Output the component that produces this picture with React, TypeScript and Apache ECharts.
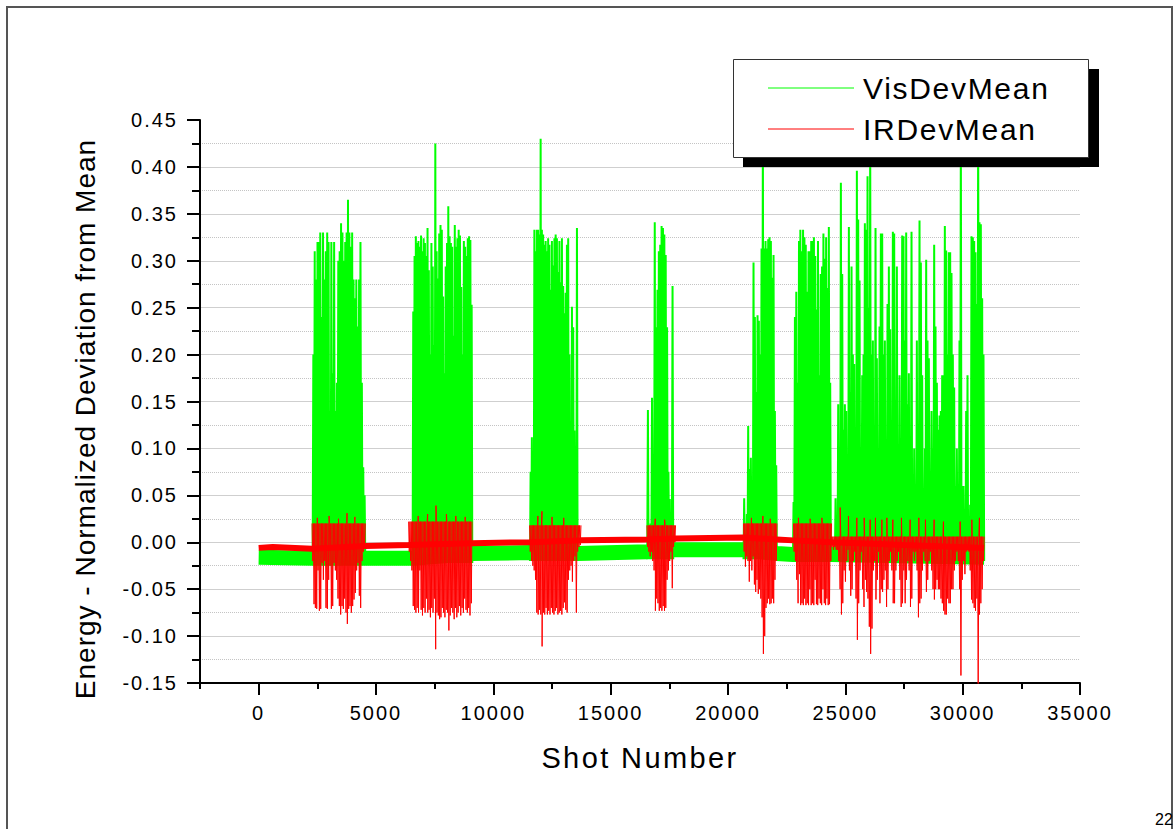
import React, { useEffect, useRef } from "react";
import * as echarts from "echarts";

const FONT = "'Liberation Sans', Arial, sans-serif";

// ---------- axes / texts ----------
const xMin = -2500;
const xMax = 35000;
const xMajorTicks = [0, 5000, 10000, 15000, 20000, 25000, 30000, 35000];
const xMinorTicks = [-2500, 2500, 7500, 12500, 17500, 22500, 27500, 32500];
const yMin = -0.15;
const yMax = 0.45;
const yStep = 0.05;
const legendNames = ["VisDevMean", "IRDevMean"];
const xTitle = "Shot Number";
const yTitle = "Energy - Normalized Deviation from Mean";
const pageNumber = "22";

// ---------- baseline noise bands (centre of band) ----------
const visBandShots = [0, 2300, 4545, 6560, 9104, 11562, 13590, 16558, 17666, 20661, 22083, 22765, 24384, 30916];
const visBandValues = [-0.016, -0.017, -0.017, -0.017, -0.012, -0.011, -0.012, -0.01, -0.008, -0.008, -0.012, -0.013, -0.013, -0.016];
const irBandShots = [0, 600, 2275, 4545, 6390, 9090, 11545, 13734, 16546, 17764, 20661, 22083, 22791, 24410, 27500, 30916];
const irBandValues = [-0.006, -0.005, -0.007, -0.004, -0.003, -0.001, 0.0, 0.002, 0.003, 0.004, 0.005, 0.003, 0.002, 0.0, -0.003, -0.006];

// ---------- VisDevMean bursts ----------
const visFrom = [2300, 6560, 11562, 16558, 20661, 22765, 24384];
const visTo = [4545, 9104, 13590, 17666, 22083, 24384, 30916];
const visFloor = [-0.022, -0.022, -0.02, -0.018, -0.018, -0.02, -0.02];
const visBurst1 = [0.2, 0.31, 0.28, 0.32, 0.32, 0.33, 0.24, 0.33, 0.28, 0.31, 0.33, 0.32, 0.14, 0.32, 0.18, 0.32, 0.14, 0.17, 0.3, 0.31, 0.34, 0.33, 0.3, 0.32, 0.33, 0.365, 0.33, 0.315, 0.33, 0.28, 0.26, 0.28, 0.23, 0.28, 0.32, 0.17, 0.08, 0.05];
const visBurst2 = [0.246, 0.305, 0.326, 0.319, 0.321, 0.315, 0.327, 0.31, 0.324, 0.319, 0.305, 0.335, 0.29, 0.2, 0.319, 0.294, 0.21, 0.425, 0.31, 0.281, 0.329, 0.338, 0.333, 0.262, 0.18, 0.294, 0.319, 0.358, 0.326, 0.319, 0.315, 0.22, 0.338, 0.315, 0.324, 0.333, 0.327, 0.272, 0.2, 0.321, 0.315, 0.305, 0.324, 0.326, 0.322, 0.253];
const visBurst3 = [0.075, 0.112, 0.046, 0.333, 0.31, 0.333, 0.333, 0.328, 0.43, 0.333, 0.328, 0.317, 0.321, 0.31, 0.324, 0.317, 0.269, 0.321, 0.295, 0.324, 0.328, 0.324, 0.288, 0.321, 0.277, 0.324, 0.273, 0.244, 0.266, 0.317, 0.324, 0.2, 0.119, 0.251, 0.229, 0.119, -0.01, 0.335];
const visBurst4 = [0.141, -0.01, 0.02, 0.154, 0.06, 0.341, 0.229, 0.269, 0.31, 0.317, 0.337, 0.335, 0.328, 0.306, 0.229, 0.075, 0.046, -0.01, 0.273];
const visBurst5 = [0.047, -0.01, 0.03, 0.124, 0.078, 0.09, 0.05, 0.298, 0.24, 0.16, 0.242, 0.236, 0.2, 0.313, 0.44, 0.313, 0.321, 0.313, 0.323, 0.325, 0.321, 0.282, 0.306, 0.14, 0.082];
const visBurst6 = [0.043, 0.24, 0.267, 0.17, 0.321, 0.333, 0.31, 0.333, 0.325, 0.317, 0.267, 0.31, 0.31, 0.321, 0.321, 0.325, 0.305, 0.248, 0.321, 0.178, 0.286, 0.294, 0.329, 0.302, 0.325, 0.271, 0.336, 0.17];
const visBurst7 = [
  -0.01, -0.01, -0.01, 0.047, 0.02, 0.147, 0.08, 0.383, 0.286, 0.12,
  0.147, 0.14, -0.01, 0.336, 0.16, 0.294, 0.2, 0.19, 0.0, 0.396,
  0.344, 0.279, 0.1, 0.178, 0.2, 0.34, 0.333, 0.39, 0.25, 0.44,
  0.2, 0.215, 0.1, 0.335, 0.196, 0.05, 0.23, 0.329, 0.329, 0.2,
  0.215, 0.1, 0.254, 0.294, 0.227, 0.05, 0.331, 0.329, 0.15, 0.294,
  0.05, 0.178, 0.05, 0.327, 0.326, 0.215, 0.33, 0.147, 0.18, 0.05,
  0.331, 0.02, 0.1, 0.03, 0.215, 0.05, 0.343, 0.298, 0.178, 0.0,
  0.1, 0.301, 0.215, 0.196, 0.05, 0.14, 0.1, 0.317, 0.23, 0.17,
  0.12, 0.135, 0.14, 0.178, 0.178, 0.337, 0.311, 0.2, 0.309, 0.309,
  0.287, 0.2, 0.165, 0.06, 0.1, 0.026, 0.215, 0.44, 0.06, 0.06,
  0.0, 0.14, 0.178, 0.0, 0.04, 0.326, 0.325, 0.321, 0.309, 0.254,
  0.45, 0.341, 0.339, 0.26, 0.2,
];
const visPeaks = [visBurst1, visBurst2, visBurst3, visBurst4, visBurst5, visBurst6, visBurst7];

// ---------- IRDevMean bursts ----------
const irFrom = [2275, 6390, 11545, 16546, 20661, 22791, 24410];
const irTo = [4545, 9090, 13734, 17764, 22083, 24410, 30916];
const irCeiling = [0.02, 0.022, 0.018, 0.018, 0.02, 0.02, 0.006];
const irBurst1 = [-0.02, -0.066, -0.07, -0.071, -0.03, -0.073, -0.071, -0.022, -0.04, -0.02, -0.07, -0.071, -0.04, -0.025, -0.071, -0.068, -0.022, -0.03, -0.04, -0.06, -0.068, -0.077, -0.068, -0.071, -0.06, -0.075, -0.087, -0.071, -0.068, -0.075, -0.068, -0.061, -0.054, -0.03, -0.022, -0.057, -0.07, -0.02, -0.01, -0.005];
const irBurst2 = [-0.01, -0.02, -0.03, -0.068, -0.072, -0.075, -0.07, -0.075, -0.03, -0.072, -0.078, -0.07, -0.075, -0.06, -0.075, -0.072, -0.08, -0.07, -0.075, -0.06, -0.114, -0.075, -0.078, -0.082, -0.08, -0.07, -0.075, -0.08, -0.072, -0.075, -0.094, -0.078, -0.07, -0.075, -0.082, -0.07, -0.08, -0.075, -0.068, -0.078, -0.07, -0.075, -0.06, -0.072, -0.075, -0.07, -0.078, -0.065];
const irBurst3 = [-0.01, -0.02, -0.025, -0.03, -0.04, -0.075, -0.077, -0.072, -0.077, -0.111, -0.075, -0.077, -0.07, -0.077, -0.073, -0.077, -0.07, -0.075, -0.077, -0.073, -0.07, -0.077, -0.075, -0.073, -0.077, -0.07, -0.064, -0.072, -0.075, -0.04, -0.03, -0.025, -0.042, -0.02, -0.015, -0.075, -0.01, -0.005, -0.003];
const irBurst4 = [-0.005, -0.01, -0.015, -0.01, -0.02, -0.03, -0.073, -0.06, -0.065, -0.073, -0.07, -0.073, -0.068, -0.073, -0.07, -0.04, -0.03, -0.02, -0.01, -0.049, -0.005, 0.0];
const irBurst5 = [-0.01, -0.026, -0.015, -0.02, -0.042, -0.02, -0.03, -0.015, -0.045, -0.053, -0.04, -0.055, -0.05, -0.06, -0.08, -0.119, -0.1, -0.07, -0.065, -0.06, -0.066, -0.065, -0.06, -0.065, -0.04, -0.02];
const irBurst6 = [-0.01, -0.02, -0.04, -0.065, -0.034, -0.067, -0.065, -0.067, -0.06, -0.067, -0.065, -0.067, -0.05, -0.067, -0.065, -0.067, -0.04, -0.066, -0.067, -0.06, -0.065, -0.067, -0.05, -0.065, -0.067, -0.06, -0.067, -0.066, -0.02];
const irBurst7 = [
  -0.005, -0.008, -0.005, -0.008, -0.008, -0.02, -0.05, -0.077, -0.065, -0.03,
  -0.042, -0.02, -0.008, -0.03, -0.057, -0.05, -0.02, -0.01, -0.06, -0.104,
  -0.065, -0.03, -0.01, -0.05, -0.069, -0.04, -0.053, -0.06, -0.09, -0.119,
  -0.092, -0.03, -0.02, -0.061, -0.04, -0.01, -0.065, -0.05, -0.053, -0.04,
  -0.03, -0.069, -0.05, -0.02, -0.01, -0.03, -0.065, -0.065, -0.03, -0.02,
  -0.01, -0.04, -0.069, -0.065, -0.03, -0.065, -0.04, -0.02, -0.03, -0.069,
  -0.06, -0.01, -0.02, -0.01, -0.03, -0.08, -0.065, -0.06, -0.03, -0.01,
  -0.02, -0.053, -0.04, -0.02, -0.01, -0.03, -0.05, -0.061, -0.05, -0.04,
  -0.05, -0.05, -0.06, -0.065, -0.073, -0.077, -0.077, -0.06, -0.065, -0.065,
  -0.05, -0.05, -0.03, -0.02, -0.01, -0.02, -0.05, -0.142, -0.04, -0.02,
  -0.034, -0.01, -0.008, -0.01, -0.03, -0.061, -0.065, -0.07, -0.073, -0.06,
  -0.158, -0.077, -0.065, -0.05, -0.02,
];
const irTroughs = [irBurst1, irBurst2, irBurst3, irBurst4, irBurst5, irBurst6, irBurst7];
const irUpShots = [
  2500, 3000, 3400, 3766, 4100,
  6800, 7200, 7557, 8000, 8400, 8800,
  11900, 12072, 12500, 13000,
  16900, 17300,
  21000, 21487, 21800,
  23000, 23500, 24000,
  24780, 25134, 25490, 25803, 26058, 26284, 26557, 26770, 27025, 27392, 27762, 28132, 28414, 28785, 29181, 29892, 30391, 30715,
];
const irUpValues = [
  0.026, 0.028, 0.025, 0.031, 0.027,
  0.028, 0.03, 0.039, 0.03, 0.028, 0.027,
  0.028, 0.033, 0.027, 0.026,
  0.025, 0.024,
  0.026, 0.028, 0.025,
  0.026, 0.025, 0.026,
  0.037, 0.028, 0.026, 0.026, 0.024, 0.026, 0.024, 0.026, 0.024, 0.026, 0.024, 0.026, 0.024, 0.024, 0.022, 0.022, 0.024, 0.026,
];

const GREEN = "#00ff00";
const RED = "#ff0000";

// dense trace inside one burst: alternate between the band level and each read extreme
function burstPoints(from: number, to: number, base: number, values: number[]) {
  const step = (to - from) / values.length;
  const pts: number[][] = [];
  values.forEach((v, i) => {
    pts.push([from + i * step, base]);
    pts.push([from + (i + 0.5) * step, v]);
  });
  pts.push([to, base]);
  return pts;
}

function buildOption() {
  const series: any[] = [];
  const lineBase = {
    type: "line",
    showSymbol: false,
    symbol: "none",
    silent: true,
    clip: true,
    animation: false,
  };
  series.push({
    ...lineBase,
    name: legendNames[0],
    data: visBandShots.map((s, i) => [s, visBandValues[i]]),
    lineStyle: { color: GREEN, width: 15, cap: "butt", join: "bevel" },
  });
  visFrom.forEach((f, i) => {
    series.push({
      ...lineBase,
      name: legendNames[0],
      data: burstPoints(f, visTo[i], visFloor[i], visPeaks[i]),
      lineStyle: { color: GREEN, width: 2 },
    });
  });
  series.push({
    ...lineBase,
    name: legendNames[1],
    data: irBandShots.map((s, i) => [s, irBandValues[i]]),
    lineStyle: { color: RED, width: 6, cap: "butt", join: "bevel" },
  });
  irFrom.forEach((f, i) => {
    const pts = burstPoints(f, irTo[i], irCeiling[i], irTroughs[i]);
    irUpShots.forEach((s, k) => {
      if (s > f && s < irTo[i]) pts.push([s, irUpValues[k]]);
    });
    pts.sort((a, b) => a[0] - b[0]);
    series.push({
      ...lineBase,
      name: legendNames[1],
      data: pts,
      lineStyle: { color: RED, width: 1 },
    });
  });

  const axisBlack = { color: "#000", width: 2 };

  return {
    animation: false,
    backgroundColor: "#ffffff",
    textStyle: { fontFamily: FONT },
    grid: { left: 200, right: 95, top: 120, bottom: 146, containLabel: false, outerBoundsMode: "none" },
    xAxis: [
      {
        type: "value",
        min: xMin,
        max: xMax,
        position: "bottom",
        axisLine: { show: true, onZero: false, lineStyle: axisBlack },
        axisTick: { show: true, inside: false, customValues: xMajorTicks, length: 12, lineStyle: axisBlack },
        axisLabel: {
          show: true,
          customValues: xMajorTicks,
          margin: 20,
          fontSize: 20,
          color: "#000",
          fontFamily: FONT,
          formatter: (v: number) => String(Math.round(v)),
        },
        splitLine: { show: false },
        name: xTitle,
        nameLocation: "middle",
        nameGap: 60,
        nameTextStyle: { fontSize: 29, color: "#000", fontFamily: FONT },
      },
      {
        type: "value",
        min: xMin,
        max: xMax,
        position: "bottom",
        axisLine: { show: false, onZero: false },
        axisTick: { show: true, inside: false, customValues: xMinorTicks, length: 6, lineStyle: axisBlack },
        axisLabel: { show: false },
        splitLine: { show: false },
      },
    ],
    yAxis: {
      type: "value",
      min: yMin,
      max: yMax,
      interval: yStep,
      axisLine: { show: true, onZero: false, lineStyle: axisBlack },
      axisTick: { show: true, inside: false, length: 13, lineStyle: axisBlack },
      minorTick: { show: true, splitNumber: 2, length: 8, lineStyle: axisBlack },
      axisLabel: {
        margin: 22,
        fontSize: 20,
        color: "#000",
        fontFamily: FONT,
        formatter: (v: number) => (Math.abs(v) < 1e-9 ? 0 : v).toFixed(2),
      },
      splitLine: { show: true, showMaxLine: false, showMinLine: false, lineStyle: { color: "#cfcfcf", width: 1 } },
      minorSplitLine: { show: true, lineStyle: { color: "#c4c4c4", width: 1, type: "dotted" } },
    },
    series,
    graphic: [
      {
        type: "rect",
        silent: true,
        z: 100,
        shape: { x: 7, y: 7, width: 1165, height: 840 },
        style: { fill: "none", stroke: "#555555", lineWidth: 2 },
      },
      {
        type: "text",
        z: 100,
        x: 1155,
        y: 819,
        style: { text: pageNumber, fontSize: 16, fill: "#000", fontFamily: FONT, verticalAlign: "middle" },
      },
      {
        type: "text",
        z: 100,
        x: 85,
        y: 419,
        rotation: Math.PI / 2,
        style: {
          text: yTitle,
          fontSize: 28,
          fill: "#000",
          fontFamily: FONT,
          align: "center",
          verticalAlign: "middle",
        },
      },
      {
        type: "rect",
        z: 100,
        shape: { x: 743, y: 69, width: 356, height: 98 },
        style: { fill: "#000" },
      },
      {
        type: "rect",
        z: 101,
        shape: { x: 733.5, y: 59.5, width: 355, height: 98 },
        style: { fill: "#fff", stroke: "#333", lineWidth: 1 },
      },
      {
        type: "line",
        z: 102,
        shape: { x1: 768, y1: 88, x2: 854, y2: 88 },
        style: { stroke: GREEN, lineWidth: 1 },
      },
      {
        type: "line",
        z: 102,
        shape: { x1: 768, y1: 129, x2: 854, y2: 129 },
        style: { stroke: RED, lineWidth: 1 },
      },
      {
        type: "text",
        z: 102,
        x: 863,
        y: 88,
        style: { text: legendNames[0], fontSize: 30, fill: "#000", fontFamily: FONT, verticalAlign: "middle" },
      },
      {
        type: "text",
        z: 102,
        x: 863,
        y: 129,
        style: { text: legendNames[1], fontSize: 30, fill: "#000", fontFamily: FONT, verticalAlign: "middle" },
      },
    ],
  };
}

const css = `
#chart-root text { letter-spacing: 2px; }
#chart-root text[style*="28px"] { letter-spacing: 1px; }
#chart-root text[style*="29px"] { letter-spacing: 2.4px; }
#chart-root text[style*="30px"] { letter-spacing: 1.7px; }
#chart-root text[style*="16px"] { letter-spacing: 0px; }
`;

export default function App() {
  const ref = useRef<HTMLDivElement>(null);
  useEffect(() => {
    if (!ref.current) return;
    const chart = echarts.init(ref.current, null, { renderer: "svg" });
    chart.setOption(buildOption() as any);
    return () => chart.dispose();
  }, []);
  return (
    <div style={{ position: "fixed", left: 0, top: 0, width: 1175, height: 829, background: "#fff" }}>
      <style>{css}</style>
      <div id="chart-root" ref={ref} style={{ width: 1175, height: 829 }} />
    </div>
  );
}
